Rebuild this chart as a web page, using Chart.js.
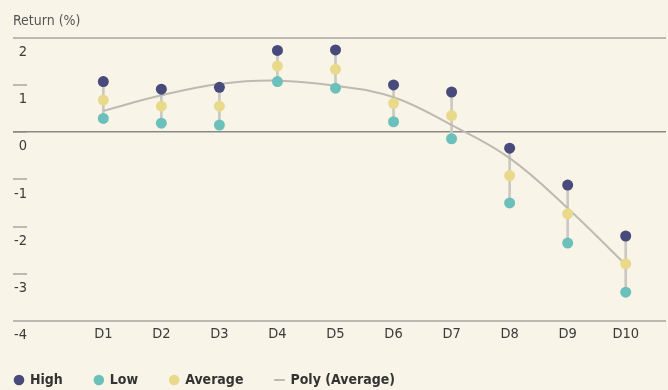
<!DOCTYPE html>
<html>
<head>
<meta charset="utf-8">
<script src="https://cdn.jsdelivr.net/npm/chart.js@4.4.1/dist/chart.umd.min.js"></script>
<style>
  html, body { margin: 0; padding: 0; background: #f8f4e7; }
  #wrap { width: 668px; height: 390px; }
</style>
</head>
<body>
<div id="wrap"><canvas id="myChart"></canvas></div>
<script>
const deciles = ['D1', 'D2', 'D3', 'D4', 'D5', 'D6', 'D7', 'D8', 'D9', 'D10']
const high = [1.07, 0.91, 0.95, 1.73, 1.74, 1.00, 0.85, -0.34, -1.12, -2.20]
const low = [0.29, 0.19, 0.15, 1.07, 0.93, 0.22, -0.14, -1.50, -2.35, -3.39]
const average = [0.68, 0.55, 0.55, 1.40, 1.33, 0.61, 0.35, -0.92, -1.73, -2.79]
const polyAverage = [0.45, 0.78, 1.02, 1.09, 0.98, 0.74, 0.15, -0.55, -1.61, -2.81] // trend line
const yTicks = [2, 1, 0, -1, -2, -3, -4]

const FONT = "'Liberation Sans Narrow', 'DejaVu Sans Condensed', sans-serif"
const TICK_SIZE = 14.5
const TEXT_SIZE = 14
const PAD_LEFT = -17 // legend starts at its padding, so pull everything left

// labels are mirrored and right aligned on x = 27, so measure the widest one
const measure = document.createElement('canvas').getContext('2d')
measure.font = TICK_SIZE + 'px ' + FONT
const widestY = Math.max(...yTicks.map((v) => measure.measureText(String(v)).width))

const toPoints = (arr) => arr.map((v, i) => ({ x: i + 1, y: v }))

const data = {
    datasets: [
        { type: 'scatter', label: 'High', data: toPoints(high), backgroundColor: '#474a7a', borderColor: '#474a7a', borderWidth: 0, pointRadius: 5.5, pointHoverRadius: 5.5, order: 1 },
        { type: 'scatter', label: 'Low', data: toPoints(low), backgroundColor: '#6cc0bb', borderColor: '#6cc0bb', borderWidth: 0, pointRadius: 5.5, pointHoverRadius: 5.5, order: 2 },
        { type: 'scatter', label: 'Average', data: toPoints(average), backgroundColor: '#e9d98b', borderColor: '#e9d98b', borderWidth: 0, pointRadius: 5.5, pointHoverRadius: 5.5, order: 3 },
        { type: 'line', label: 'Poly (Average)', data: toPoints(polyAverage), borderColor: '#bdbab3', backgroundColor: '#bdbab3', borderWidth: 2, pointRadius: 0, pointStyle: 'line', tension: 0.4, fill: false, order: 4 },
        { type: 'bar', label: 'range', data: high.map((h, i) => ({ x: i + 1, y: [low[i], h] })), backgroundColor: '#cbc8c1', barThickness: 2, order: 5 }
    ]
}

const lineColor = (ctx) => {
    const v = ctx.tick.value
    if (v === 0) return '#8b8985'
    if (v === 2 || v === -4) return '#bcb9b1'
    return 'transparent'
}

const config = {
    type: 'scatter',
    data: data,
    options: {
        responsive: true,
        maintainAspectRatio: false,
        animation: false,
        layout: { autoPadding: false, padding: { left: PAD_LEFT, right: 2, top: 0, bottom: -7 } },
        scales: {
            x: {
                type: 'linear',
                offset: false,
                min: -0.556,
                max: 10.694,
                afterBuildTicks: (scale) => { scale.ticks = deciles.map((d, i) => ({ value: i + 1 })) },
                afterFit: (scale) => {
                    scale.height = 20
                    scale.paddingLeft = 0
                    scale.paddingRight = 0
                },
                grid: { display: false, drawTicks: false, offset: false },
                border: { display: false },
                ticks: {
                    padding: 5,
                    maxRotation: 0,
                    autoSkip: false,
                    color: '#3b3b3b',
                    font: { family: FONT, size: TICK_SIZE },
                    callback: (v) => deciles[v - 1]
                }
            },
            y: {
                min: -4,
                max: 2,
                afterBuildTicks: (scale) => { scale.ticks = yTicks.map((v) => ({ value: v })) },
                afterFit: (scale) => { scale.width = 13 - PAD_LEFT },
                border: { display: false },
                grid: {
                    color: lineColor,
                    tickColor: (ctx) => ctx.tick.value === 0 ? '#8b8985' : '#bcb9b1',
                    lineWidth: (ctx) => ctx.tick.value === 0 ? 1.5 : 2,
                    drawTicks: true,
                    tickLength: -14,
                    tickWidth: (ctx) => ctx.tick.value === 0 ? 1.5 : 2
                },
                ticks: {
                    mirror: true,
                    crossAlign: 'far',
                    padding: 14 - widestY,
                    labelOffset: 14.5,
                    color: '#3b3b3b',
                    font: { family: FONT, size: TICK_SIZE }
                }
            }
        },
        plugins: {
            title: {
                display: true,
                text: 'Return (%)',
                align: 'start',
                fullSize: false,
                color: '#555555',
                font: { family: FONT, size: TEXT_SIZE, weight: 'normal' },
                padding: { top: 12.5, bottom: 8.4 }
            },
            legend: {
                position: 'bottom',
                align: 'start',
                labels: {
                    usePointStyle: true,
                    boxWidth: 8,
                    boxHeight: 7.5,
                    padding: 32,
                    color: '#333333',
                    font: { family: FONT, size: TEXT_SIZE, weight: 'bold' },
                    filter: (item) => item.text !== 'range'
                }
            },
            tooltip: { enabled: false }
        }
    }
}

const ctx = document.getElementById('myChart')

new Chart(ctx, config)
</script>
</body>
</html>
